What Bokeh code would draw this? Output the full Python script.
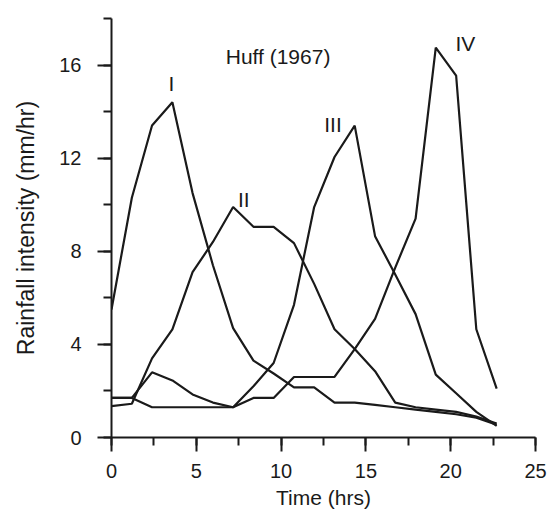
from bokeh.plotting import figure
from bokeh.models import Range1d, SingleIntervalTicker, Label
from bokeh.embed import file_html
from bokeh.resources import INLINE

# Data (time in hours, rainfall intensity in mm/hr)
times = [0, 1.2, 2.39, 3.59, 4.78, 5.98, 7.17, 8.37, 9.56, 10.76,
         11.95, 13.15, 14.34, 15.54, 16.73, 17.93, 19.12, 20.32, 21.51, 22.71]
curve_I = [5.5, 10.3, 13.4, 14.4, 10.5, 7.4, 4.7, 3.3, 2.75, 2.15,
           2.15, 1.5, 1.5, 1.4, 1.3, 1.2, 1.1, 1.0, 0.85, 0.55]
curve_II = [1.35, 1.45, 3.4, 4.65, 7.1, 8.4, 9.9, 9.05, 9.05, 8.35,
            6.6, 4.65, 3.8, 2.85, 1.5, 1.3, 1.2, 1.1, 0.9, 0.6]
curve_III = [1.7, 1.7, 1.3, 1.3, 1.3, 1.3, 1.3, 2.2, 3.2, 5.7,
             9.9, 12.05, 13.4, 8.65, 7.0, 5.3, 2.7, 1.9, 1.1, 0.5]
curve_IV = [1.7, 1.7, 2.8, 2.45, 1.85, 1.5, 1.3, 1.7, 1.7, 2.6,
            2.6, 2.6, 3.8, 5.1, 7.3, 9.4, 16.75, 15.55, 4.65, 2.1]

curve_names = ["I", "II", "III", "IV"]
label_x = [3.54, 7.8, 13.06, 20.87]
label_y = [15.2, 10.23, 13.44, 16.93]

FONT = "Liberation Sans"
INK = "#1a1a1a"

p = figure(width=547, height=519, x_range=Range1d(0, 25), y_range=Range1d(0, 18),
           output_backend="svg", toolbar_location=None,
           min_border_left=111, min_border_right=12, min_border_top=18, min_border_bottom=82)
p.outline_line_color = None
p.xgrid.grid_line_color = None
p.ygrid.grid_line_color = None
p.background_fill_color = "white"
p.border_fill_color = "white"

for ys in [curve_I, curve_II, curve_III, curve_IV]:
    p.line(times, ys, line_color=INK, line_width=2.2)

for name, lx, ly in zip(curve_names, label_x, label_y):
    p.add_layout(Label(x=lx, y=ly, text=name, text_align="center", text_baseline="middle",
                       text_font=FONT, text_font_size="21px", text_color=INK))

p.add_layout(Label(x=9.82, y=16.37, text="Huff (1967)", text_align="center",
                   text_baseline="middle", text_font=FONT, text_font_size="21px",
                   text_color=INK))

for ax in [p.xaxis[0], p.yaxis[0]]:
    ax.axis_line_width = 2
    ax.axis_line_color = INK
    ax.major_tick_line_width = 2
    ax.minor_tick_line_width = 2
    ax.major_tick_line_color = INK
    ax.minor_tick_line_color = INK
    ax.major_tick_out = 14
    ax.major_tick_in = 0
    ax.minor_tick_out = 8
    ax.minor_tick_in = 0
    ax.major_label_text_font = FONT
    ax.major_label_text_font_size = "20px"
    ax.major_label_text_color = INK
    ax.axis_label_text_font = FONT
    ax.axis_label_text_font_style = "normal"
    ax.axis_label_text_color = INK

p.xaxis.ticker = SingleIntervalTicker(interval=5, num_minor_ticks=2)
p.yaxis.ticker = SingleIntervalTicker(interval=4, num_minor_ticks=2)
p.xaxis.axis_label = "Time (hrs)"
p.yaxis.axis_label = "Rainfall intensity (mm/hr)"
p.xaxis.axis_label_text_font_size = "21px"
p.yaxis.axis_label_text_font_size = "23px"
p.xaxis.major_label_standoff = 12
p.xaxis.axis_label_standoff = 5
p.yaxis.major_label_standoff = 16
p.yaxis.axis_label_standoff = 17

open("out.html", "w").write(file_html(p, INLINE))
